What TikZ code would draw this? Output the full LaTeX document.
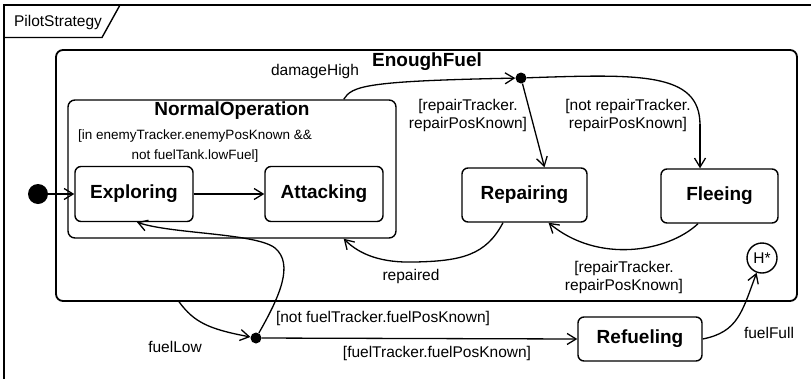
\documentclass[tikz,border=0pt]{standalone}
\usepackage{fontspec}
\setmainfont{Liberation Sans}
\usetikzlibrary{arrows.meta,calc}
\begin{document}
\begin{tikzpicture}[x=1pt,y=-1pt,
  lbl/.style={font=\fontsize{15.5}{18}\selectfont, inner sep=0pt, align=center},
  guard/.style={font=\fontsize{13.5}{20}\selectfont, inner sep=0pt, align=center},
  title/.style={font=\fontsize{19}{22}\selectfont\bfseries, inner sep=0pt},
  state/.style={draw, rounded corners=6pt, line width=1.4pt,
    font=\fontsize{19}{22}\selectfont\bfseries, inner sep=0pt},
  region/.style={draw, rounded corners=7pt, inner sep=0pt},
  dot/.style={circle, fill=black, draw=none, inner sep=0pt},
  trans/.style={line width=1.3pt, -{Straight Barb[length=9pt,width=11pt]}},
  plain/.style={line width=1.3pt}]
\useasboundingbox (0,0) rectangle (811,378);
\begin{scope}
\clip (0,0) rectangle (811,378);
% diagram frame with name tab
\draw[line width=1.6pt] (4,390) -- (4,5) -- (830,5);
\draw[line width=1.4pt] (4,37.5) -- (102,37.5) -- (120,5);
\end{scope}
\node[lbl] (frameName) at (58,22) {PilotStrategy};

% composite states
\node[region, line width=1.8pt, minimum width=741pt, minimum height=251pt] (ef) at (426.5,175.5) {};
\node[title] (efTitle) at (427,62) {EnoughFuel};
\node[region, line width=1.4pt, minimum width=328pt, minimum height=138pt] (no) at (232,169) {};
\node[title] (noTitle) at (232,111) {NormalOperation};
\node[guard] (noGuard) at (195,146) {[in enemyTracker.enemyPosKnown \&\&\\not fuelTank.lowFuel]};

% simple states
\node[state, minimum width=118pt, minimum height=55pt] (exp) at (134,194) {Exploring};
\node[state, minimum width=118pt, minimum height=55pt] (att) at (324,194) {Attacking};
\node[state, minimum width=125pt, minimum height=54pt] (rep) at (524.5,195) {Repairing};
\node[state, minimum width=117pt, minimum height=54pt] (fle) at (719.5,196) {Fleeing};
\node[state, minimum width=124pt, minimum height=44pt] (ref) at (640,339) {Refueling};

% pseudostates
\node[dot, minimum size=20pt] (init) at (38,194) {};
\node[dot, minimum size=11pt] (jt) at (521,78) {};
\node[dot, minimum size=11pt] (jb) at (256,338) {};
\node[circle, draw, line width=1.4pt, minimum size=30pt, inner sep=0pt,
  font=\fontsize{15.5}{18}\selectfont] (hist) at (762,258) {H*};

% transitions
\draw[trans] (init) -- (exp.west);
\draw[trans] (exp.east) -- (att.west);
\draw[trans] ([xshift=-53pt]no.north east) .. controls (352,86) and (365,81) .. (jt);
\draw[trans] (jt) -- ([xshift=20pt]rep.north);
\draw[plain] (jt) .. controls (640,74) and (700,72) .. (700,125);
\draw[trans] (700,124) -- ([xshift=-19.5pt]fle.north);
\draw[trans] ([xshift=-21.5pt]fle.south) .. controls (668,252) and (598,264) .. ([xshift=24pt]rep.south);
\draw[trans] ([xshift=-21.5pt]rep.south) .. controls (486,255) and (462,261) .. (415,262)
  .. controls (382,263) and (360,255) .. ([xshift=-53pt]no.south east);
\draw[trans] ([xshift=124pt]ef.south west) .. controls (194,322) and (208,329) .. (jb);
\draw[trans] (jb) .. controls (280,296) and (294,264) .. (275,248)
  .. controls (256,233) and (172,234) .. ([xshift=3pt]exp.south);
\draw[trans] (jb) -- (ref.west);
\draw[trans] (ref.east) .. controls (738,332) and (742,312) .. (hist.250);

% transition labels
\node[lbl] (lDamage) at (315,71) {damageHigh};
\node[lbl] (lRep1) at (468,115) {[repairTracker.\\repairPosKnown]};
\node[lbl] (lFlee) at (628,115) {[not repairTracker.\\repairPosKnown]};
\node[lbl] (lRep2) at (624,277) {[repairTracker.\\repairPosKnown]};
\node[lbl] (lRepaired) at (411,276) {repaired};
\node[lbl] (lNotFuel) at (383,318) {[not fuelTracker.fuelPosKnown]};
\node[lbl] (lFuel) at (437,353) {[fuelTracker.fuelPosKnown]};
\node[lbl] (lLow) at (175,347) {fuelLow};
\node[lbl] (lFull) at (769,333) {fuelFull};
\end{tikzpicture}
\end{document}
